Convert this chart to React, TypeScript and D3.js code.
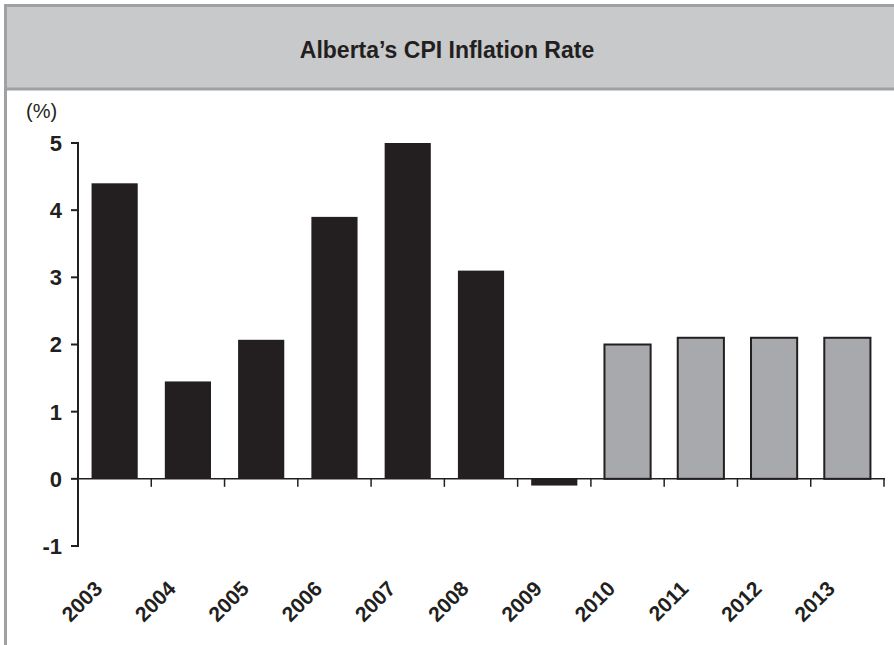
import React, { useEffect, useRef } from 'react'
import * as d3 from 'd3'

const years = ['2003', '2004', '2005', '2006', '2007', '2008', '2009', '2010', '2011', '2012', '2013']
const rates = [4.4, 1.45, 2.07, 3.9, 5.0, 3.1, -0.1, 2.0, 2.1, 2.1, 2.1]
// first seven are actuals, rest are forecasts
const forecast = [false, false, false, false, false, false, false, true, true, true, true]
const yTicks = [-1, 0, 1, 2, 3, 4, 5]

const App = () => {
  const svgRef = useRef<SVGSVGElement | null>(null)
  const width = 894
  const height = 645

  const colors = {
    actual: '#231f20',
    forecast: '#a7a9ac',
    header: '#c8c9cb',
    frame: '#9fa1a4',
  }

  useEffect(() => {
    const svg = d3.select(svgRef.current)
    svg.selectAll('*').remove()

    // header band + frame
    svg.append('rect')
      .attr('x', 5).attr('y', 5)
      .attr('width', width).attr('height', 84)
      .style('fill', colors.header)
    svg.append('path')
      .attr('d', `M5.5,${height} V5.5 H${width}`)
      .style('fill', 'none')
      .style('stroke', colors.frame)
      .style('stroke-width', 3)
    svg.append('line')
      .attr('x1', 5).attr('x2', width)
      .attr('y1', 89).attr('y2', 89)
      .style('stroke', colors.frame)
      .style('stroke-width', 3)

    svg.append('text')
      .attr('x', 447).attr('y', 58)
      .style('font', 'bold 23px "Liberation Sans Narrow", "Liberation Sans", Arial, sans-serif')
      .style('text-anchor', 'middle')
      .style('fill', '#231f20')
      .text('Alberta\u2019s CPI Inflation Rate')

    const x = d3.scaleBand().domain(years).range([78, 884]).paddingInner(0.37).paddingOuter(0.185)
    const y = d3.scaleLinear().domain([-1, 5]).range([546, 143])
    const gap = x.step() * x.paddingInner()

    // bars
    svg.append('g')
      .selectAll('rect')
      .data(years)
      .join('rect')
      .attr('x', d => x(d)!)
      .attr('width', x.bandwidth())
      .attr('y', (d, i) => y(Math.max(0, rates[i])))
      .attr('height', (d, i) => Math.abs(y(rates[i]) - y(0)))
      .style('fill', (d, i) => (forecast[i] ? colors.forecast : colors.actual))
      .style('stroke', (d, i) => (forecast[i] ? colors.actual : 'none'))
      .style('stroke-width', 2)

    // x axis at zero
    const y0 = y(0)
    svg.append('line')
      .attr('x1', 78).attr('x2', 885)
      .attr('y1', y0).attr('y2', y0)
      .style('stroke', colors.actual)
      .style('stroke-width', 1.5)
    svg.append('g')
      .selectAll('line')
      .data(years)
      .join('line')
      .attr('x1', d => x(d)! + x.bandwidth() + gap / 2)
      .attr('x2', d => x(d)! + x.bandwidth() + gap / 2)
      .attr('y1', y0).attr('y2', y0 + 8)
      .style('stroke', colors.actual)
      .style('stroke-width', 1.5)

    // y axis
    svg.append('line')
      .attr('x1', 78).attr('x2', 78)
      .attr('y1', y(5) - 1).attr('y2', y(-1) + 1)
      .style('stroke', colors.actual)
      .style('stroke-width', 2)
    const yg = svg.append('g')
    yg.selectAll('line')
      .data(yTicks)
      .join('line')
      .attr('x1', 71).attr('x2', 78)
      .attr('y1', d => y(d)).attr('y2', d => y(d))
      .style('stroke', colors.actual)
      .style('stroke-width', 2)
    yg.selectAll('text')
      .data(yTicks)
      .join('text')
      .attr('x', 62)
      .attr('y', d => y(d))
      .attr('dy', '0.36em')
      .style('font', 'bold 22px "Liberation Sans", Arial, sans-serif')
      .style('text-anchor', 'end')
      .style('fill', colors.actual)
      .text(d => String(d))

    svg.append('text')
      .attr('x', 26).attr('y', 118)
      .style('font', '20px "Liberation Sans", Arial, sans-serif')
      .style('fill', colors.actual)
      .text('(%)')

    // rotated year labels
    svg.append('g')
      .selectAll('text')
      .data(years)
      .join('text')
      .attr('transform', d => `translate(${x(d)! + x.bandwidth() / 2 - 11}, 590) rotate(-45)`)
      .style('font', 'bold 21px "Liberation Sans", Arial, sans-serif')
      .style('text-anchor', 'end')
      .style('fill', colors.actual)
      .text(d => d)
  }, [])

  return (
    <div style={{ position: 'absolute', left: 0, top: 0 }}>
      <svg ref={svgRef} width={width} height={height} style={{ display: 'block', background: '#fff' }}></svg>
    </div>
  )
}

export default App
